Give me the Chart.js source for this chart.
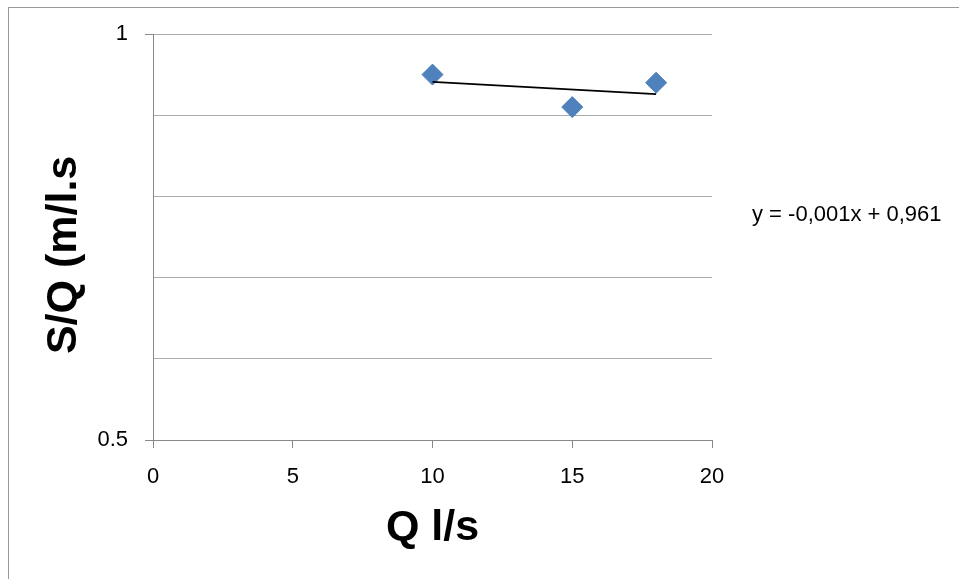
<!DOCTYPE html>
<html>
<head>
<meta charset="utf-8">
<script src="https://cdn.jsdelivr.net/npm/chart.js@4/dist/chart.umd.min.js"></script>
<style>
  html, body { margin: 0; padding: 0; background: #fff; overflow: hidden; }
  #wrap { position: relative; width: 959px; height: 579px; }
  #frame { position: absolute; left: 8px; top: 7px; width: 1200px; height: 1200px; border: 1px solid #999; pointer-events: none; }
  canvas { position: absolute; left: 0; top: 0; }
</style>
</head>
<body>
<div id="wrap">
  <canvas id="sqChart" width="959" height="579"></canvas>
  <div id="frame"></div>
</div>
<script>
// measured points
const qValues = [10, 15, 18];
const sqValues = [0.95, 0.91, 0.94];

// linear trendline (as drawn in the picture)
const trendQ = [10, 18];
const trendSQ = [0.941, 0.926];

const yLabelValues = [0.5, 1];
const eqText = 'y = -0,001x + 0,961';

const FONT = "'Liberation Sans', Arial, sans-serif";

function isLabelTick(v) {
  return yLabelValues.some((l) => Math.abs(l - v) < 1e-6);
}

const eqLabel = {
  id: 'eqLabel',
  afterDraw(chart) {
    const ctx = chart.ctx;
    const area = chart.chartArea;
    ctx.save();
    ctx.font = '22px ' + FONT;
    ctx.fillStyle = '#000';
    ctx.textBaseline = 'middle';
    ctx.textAlign = 'left';
    ctx.fillText(eqText, area.right + 40, 215);
    ctx.restore();
  },
};

const ctx = document.getElementById('sqChart');

new Chart(ctx, {
  type: 'scatter',
  data: {
    datasets: [
      {
        label: 'Trend',
        type: 'line',
        data: trendQ.map((q, i) => ({ x: q, y: trendSQ[i] })),
        borderColor: '#000',
        borderWidth: 1.8,
        pointRadius: 0,
        fill: false,
        tension: 0,
      },
      {
        label: 'S/Q',
        data: qValues.map((q, i) => ({ x: q, y: sqValues[i] })),
        pointStyle: 'rectRot',
        pointRadius: 10.5,
        pointHoverRadius: 10.5,
        backgroundColor: '#4F81BD',
        borderColor: '#4A7EBB',
        borderWidth: 1,
      },
    ],
  },
  options: {
    responsive: false,
    animation: false,
    layout: {
      padding: { left: 0, top: 34, right: 247, bottom: 0 },
    },
    plugins: {
      legend: { display: false },
      tooltip: { enabled: false },
    },
    scales: {
      x: {
        type: 'linear',
        min: 0,
        max: 20,
        ticks: {
          stepSize: 5,
          padding: 16,
          color: '#000',
          font: { family: FONT, size: 22 },
        },
        grid: {
          drawOnChartArea: false,
          tickLength: 8,
          tickColor: '#888',
        },
        border: { color: '#888', width: 1 },
        title: {
          display: true,
          text: 'Q l/s',
          color: '#000',
          font: { family: FONT, size: 43, weight: 'bold' },
          padding: { top: 0, bottom: 25 },
        },
        afterFit(scale) {
          scale.height = 139;
        },
      },
      y: {
        type: 'linear',
        min: 0.5,
        max: 1,
        ticks: {
          stepSize: 0.1,
          padding: 17,
          color: '#000',
          font: { family: FONT, size: 22 },
          callback: (v) => (isLabelTick(v) ? String(v) : ''),
        },
        grid: {
          color: '#ababab',
          tickLength: 8,
          tickColor: (c) => (c.tick && isLabelTick(c.tick.value) ? '#888' : 'rgba(0,0,0,0)'),
        },
        border: { color: '#888', width: 1 },
        title: {
          display: true,
          text: 'S/Q (m/l.s   ',
          color: '#000',
          font: { family: FONT, size: 43, weight: 'bold' },
          padding: { top: 38, bottom: 0 },
        },
        afterFit(scale) {
          scale.width = 153;
        },
      },
    },
  },
  plugins: [eqLabel],
});
</script>
</body>
</html>
